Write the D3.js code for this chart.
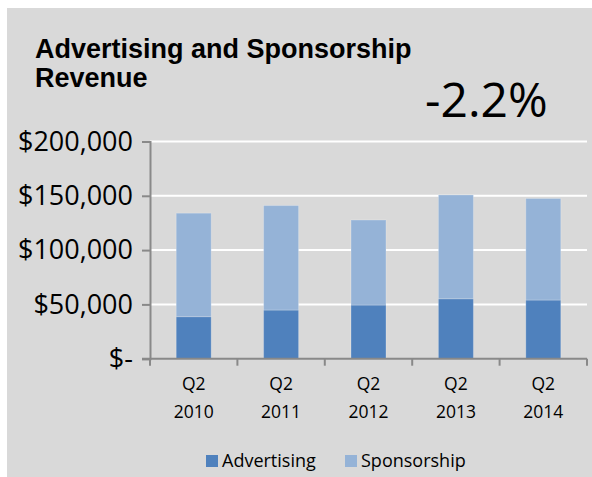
<!DOCTYPE html>
<html>
<head>
<meta charset="utf-8">
<script src="https://cdn.jsdelivr.net/npm/d3@7"></script>
<style>
  html, body { margin: 0; padding: 0; background: #ffffff; }
  svg { display: block; }
</style>
</head>
<body>
<svg id="chart" width="592" height="477"></svg>
<script>
// Quarterly revenue, split by source
const quarters = ["Q2", "Q2", "Q2", "Q2", "Q2"];
const years = ["2010", "2011", "2012", "2013", "2014"];
const advertising = [38700, 44800, 49400, 55200, 54000];
const sponsorship = [95300, 96200, 78300, 95600, 93500];
const seriesNames = ["Advertising", "Sponsorship"];
const seriesColors = ["#4f81bd", "#95b3d7"];
const yTicks = [0, 50000, 100000, 150000, 200000];
const yTickLabels = ["$-", "$50,000", "$100,000", "$150,000", "$200,000"];
const changeLabel = "-2.2%";
const titleLines = ["Advertising and Sponsorship", "Revenue"];

const svg = d3.select("#chart");
const W = 592, H = 477;

// panel background
svg.append("rect")
  .attr("x", 7).attr("y", 8)
  .attr("width", W - 7).attr("height", H - 8)
  .attr("fill", "#d9d9d9");

const plot = { left: 150, right: 587, top: 141.5, bottom: 358.7 };

const rows = years.map((y, i) => ({
  key: quarters[i] + " " + y,
  quarter: quarters[i],
  year: y,
  Advertising: advertising[i],
  Sponsorship: sponsorship[i]
}));

const x = d3.scaleBand()
  .domain(rows.map(d => d.key))
  .range([plot.left, plot.right])
  .paddingInner(0.6)
  .paddingOuter(0.3);

const y = d3.scaleLinear()
  .domain([0, 200000])
  .range([plot.bottom, plot.top]);

// horizontal gridlines
svg.append("g")
  .selectAll("line")
  .data(yTicks.filter(t => t > 0))
  .join("line")
  .attr("x1", plot.left).attr("x2", plot.right)
  .attr("y1", d => y(d)).attr("y2", d => y(d))
  .attr("stroke", "#ffffff")
  .attr("stroke-width", 2);

// stacked bars
const stacked = d3.stack().keys(seriesNames)(rows);
svg.append("g")
  .selectAll("g")
  .data(stacked)
  .join("g")
  .attr("fill", (d, i) => seriesColors[i])
  .selectAll("rect")
  .data(d => d)
  .join("rect")
  .attr("x", d => x(d.data.key))
  .attr("width", x.bandwidth())
  .attr("y", d => y(d[1]))
  .attr("height", d => y(d[0]) - y(d[1]))
  .attr("stroke", "rgba(255,255,255,0.22)")
  .attr("stroke-width", 1);

// y axis
const yAxis = d3.axisLeft(y)
  .tickValues(yTicks)
  .tickFormat((d, i) => yTickLabels[i])
  .tickSize(8)
  .tickPadding(9);

const gy = svg.append("g")
  .attr("transform", `translate(${plot.left},0)`)
  .call(yAxis);
gy.select(".domain").attr("stroke", "#898989").attr("stroke-width", 2);
gy.selectAll(".tick line").attr("stroke", "#898989").attr("stroke-width", 2);
gy.selectAll(".tick text")
  .attr("fill", "#000000")
  .style("font-family", "'Open Sans', sans-serif")
  .style("font-size", "27px");

// x axis with ticks on category boundaries
const step = x.step();
const boundaries = rows.map(d => x(d.key) - step * x.paddingInner() / 2)
  .concat([x(rows[rows.length - 1].key) + x.bandwidth() + step * x.paddingInner() / 2]);

const gx = svg.append("g");
gx.append("line")
  .attr("x1", plot.left - 8).attr("x2", plot.right)
  .attr("y1", plot.bottom).attr("y2", plot.bottom)
  .attr("stroke", "#898989").attr("stroke-width", 2);
gx.selectAll("line.tk")
  .data(boundaries)
  .join("line")
  .attr("class", "tk")
  .attr("x1", d => d).attr("x2", d => d)
  .attr("y1", plot.bottom).attr("y2", plot.bottom + 7)
  .attr("stroke", "#898989").attr("stroke-width", 2);

const catLabels = gx.selectAll("text.cat")
  .data(rows)
  .join("text")
  .attr("class", "cat")
  .attr("text-anchor", "middle")
  .style("font-family", "'Open Sans', sans-serif")
  .style("font-size", "17.5px")
  .attr("fill", "#000000");
catLabels.append("tspan")
  .attr("x", d => x(d.key) + x.bandwidth() / 2)
  .attr("y", plot.bottom + 31)
  .text(d => d.quarter);
catLabels.append("tspan")
  .attr("x", d => x(d.key) + x.bandwidth() / 2)
  .attr("y", plot.bottom + 59)
  .text(d => d.year);

// title, one text per line
titleLines.forEach((t, i) => {
  svg.append("text")
    .attr("x", 35).attr("y", 58 + i * 29)
    .attr("fill", "#000000")
    .style("font-family", "'Liberation Sans', Arial, sans-serif")
    .style("font-weight", "bold")
    .style("font-size", "27px")
    .text(t);
});

// year-over-year change
svg.append("text")
  .attr("x", 425).attr("y", 117)
  .attr("fill", "#000000")
  .style("font-family", "'Open Sans', sans-serif")
  .style("font-size", "48px")
  .text(changeLabel);

// legend
const legend = svg.append("g");
const legendX = [206, 345];
seriesNames.forEach((name, i) => {
  legend.append("rect")
    .attr("x", legendX[i]).attr("y", 455)
    .attr("width", 12).attr("height", 12)
    .attr("fill", seriesColors[i]);
  legend.append("text")
    .attr("x", legendX[i] + 16).attr("y", 467)
    .style("font-family", "'Open Sans', sans-serif")
    .style("font-size", "18px")
    .attr("fill", "#000000")
    .text(name);
});
</script>
</body>
</html>
